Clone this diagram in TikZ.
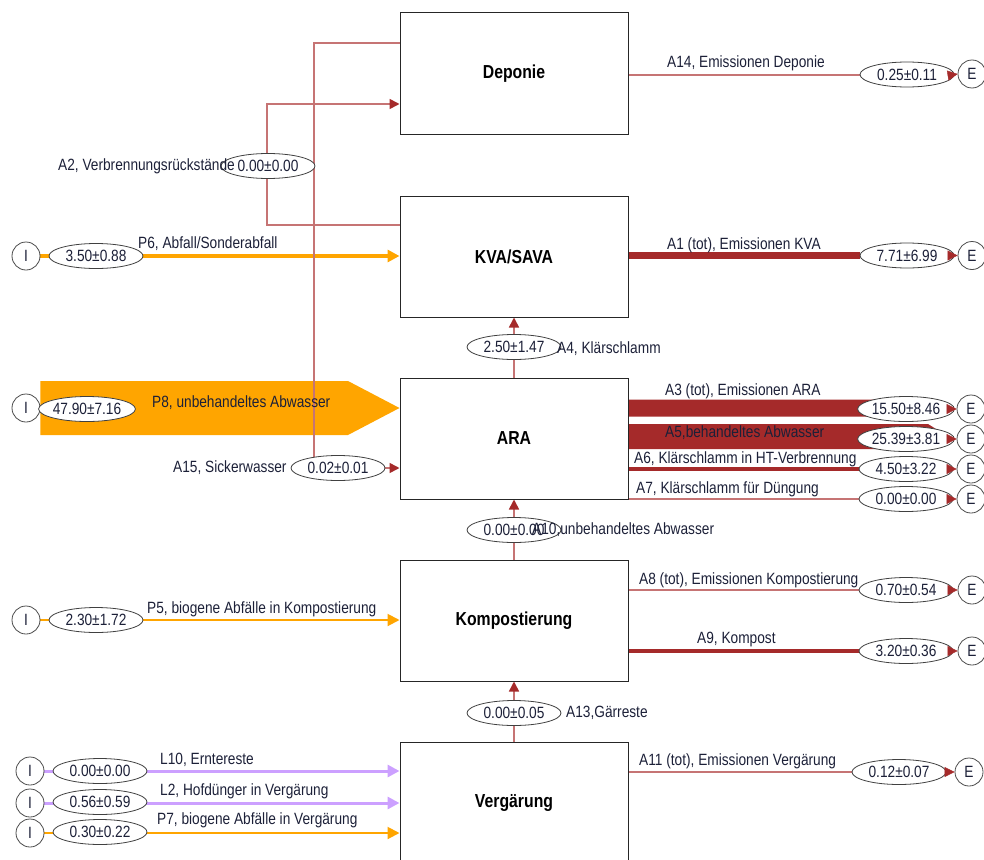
\documentclass[tikz,border=0pt]{standalone}
\usepackage{fontspec}
\setmainfont{Liberation Sans}[FakeStretch=0.84]
\usetikzlibrary{arrows.meta,shapes.geometric}
\pgfdeclarelayer{bg}
\pgfsetlayers{bg,main}
\definecolor{dred}{RGB}{165,42,42}
\definecolor{lred}{RGB}{198,116,116}
\definecolor{orng}{RGB}{255,165,0}
\definecolor{lav}{RGB}{204,160,255}
\definecolor{txt}{RGB}{28,32,56}
\tikzset{
  proc/.style={draw=black!85, line width=1pt, fill=white, minimum width=228pt, minimum height=121pt, inner sep=0pt, font=\fontsize{18.8}{22}\selectfont\bfseries},
  val/.style={ellipse, draw=black!75, line width=0.8pt, fill=white, minimum width=94pt, minimum height=25pt, inner sep=0pt, font=\fontsize{16.3}{18}\selectfont, text=txt},
  term/.style={circle, draw=black!70, line width=0.8pt, fill=white, minimum size=28pt, inner sep=0pt, font=\fontsize{16.3}{18}\selectfont, text=txt},
  lbl/.style={inner sep=0pt, text height=12pt, text depth=3.5pt, font=\fontsize{16.3}{18}\selectfont, text=txt},
  thinl/.style={draw=lred, line width=1.6pt},
  rtip/.style={-{Triangle[length=10pt,width=10pt,color=dred]}},
  otip/.style={-{Triangle[length=12pt,width=12pt,color=orng]}},
  ltip/.style={-{Triangle[length=12pt,width=12pt,color=lav]}},
  endtip/.style={draw=dred, line width=0.4pt, -{Triangle[length=10pt,width=10pt]}}
}
\begin{document}
\begin{tikzpicture}[x=1pt,y=-1pt]
\useasboundingbox (0,0) rectangle (984,859);
\clip (0,0) rectangle (984,859);

% processes
\node[proc] (dep) at (514,73.5) {Deponie};
\node[proc] (kva) at (514,256.5) {KVA/SAVA};
\node[proc] (ara) at (514,438.5) {ARA};
\node[proc] (kom) at (514,620.5) {Kompostierung};
\node[proc] (ver) at (514,802.5) {Vergärung};

% input terminals
\node[term] (iP6) at (26,256) {I};
\node[term] (iP8) at (26,408) {I};
\node[term] (iP5) at (26,620) {I};
\node[term] (iL10) at (30,771) {I};
\node[term] (iL2) at (30,803) {I};
\node[term] (iP7) at (30,833) {I};

% export terminals
\node[term] (eA14) at (972,74) {E};
\node[term] (eA1) at (972,255.5) {E};
\node[term] (eA3) at (971,409) {E};
\node[term] (eA5) at (971,439) {E};
\node[term] (eA6) at (971,469) {E};
\node[term] (eA7) at (971,499) {E};
\node[term] (eA8) at (972,590) {E};
\node[term] (eA9) at (972,651) {E};
\node[term] (eA11) at (969,772) {E};

% values
\node[val] (vA14) at (907,74.5) {0.25±0.11};
\node[val] (vA1) at (907,255.5) {7.71±6.99};
\node[val] (vA2) at (268,166) {0.00±0.00};
\node[val] (vP6) at (96,256) {3.50±0.88};
\node[val] (vA4) at (514,347) {2.50±1.47};
\node[val] (vP8) at (87,409) {47.90±7.16};
\node[val] (vA3) at (906,409) {15.50±8.46};
\node[val] (vA5) at (906,439) {25.39±3.81};
\node[val] (vA6) at (906,469) {4.50±3.22};
\node[val] (vA7) at (906,499) {0.00±0.00};
\node[val] (vA15) at (338,468) {0.02±0.01};
\node[val] (vA10) at (514,530) {0.00±0.00};
\node[val] (vP5) at (96,620) {2.30±1.72};
\node[val] (vA8) at (906,590) {0.70±0.54};
\node[val] (vA9) at (906,651) {3.20±0.36};
\node[val] (vA13) at (514,713) {0.00±0.05};
\node[val] (vA11) at (899,772) {0.12±0.07};
\node[val] (vL10) at (100,771) {0.00±0.00};
\node[val] (vL2) at (100,802) {0.56±0.59};
\node[val] (vP7) at (100,832) {0.30±0.22};

% flows (behind)
\begin{pgfonlayer}{bg}
  \fill[orng] (iP8.east |- 0,381) -- (348,381) -- (ara.west |- 0,408) -- (348,435) -- (iP8.east |- 0,435) -- cycle;
  \draw[orng, line width=3.5pt, otip] (iP6) -- (kva.west |- iP6);
  \draw[orng, line width=2pt, otip] (iP5) -- (kom.west |- iP5);
  \draw[lav, line width=3pt, ltip] (iL10) -- (ver.west |- iL10);
  \draw[lav, line width=3pt, ltip] (iL2) -- (ver.west |- iL2);
  \draw[orng, line width=2pt, otip] (iP7) -- (ver.west |- iP7);
  \draw[thinl, rtip] (kva.west |- 0,225) -- (267,225) -- (267,104) -- (dep.west |- 0,104);
  \draw[thinl, rtip] (dep.west |- 0,43) -- (314,43) -- (314,468) -- (ara.west |- 0,468);
  \draw[thinl, rtip] (ara.north) -- (kva.south);
  \draw[thinl, rtip] (kom.north) -- (ara.south);
  \draw[thinl, rtip] (ver.north) -- (kom.south);
  \draw[thinl, line width=2pt] (dep.east |- vA14) -- (vA14);
  \draw[dred, line width=7pt] (kva.east |- vA1) -- (vA1);
  \fill[dred] (ara.east |- 0,399.5) -- (932,399.5) -- (946,408) -- (932,416.5) -- (ara.east |- 0,416.5) -- cycle;
  \fill[dred] (ara.east |- 0,424) -- (928,424) -- (948,436.5) -- (928,449) -- (ara.east |- 0,449) -- cycle;
  \draw[dred, line width=4pt] (ara.east |- vA6) -- (vA6);
  \draw[thinl, line width=2pt] (ara.east |- vA7) -- (vA7);
  \draw[thinl, line width=2pt] (kom.east |- vA8) -- (vA8);
  \draw[dred, line width=3.5pt] (kom.east |- vA9) -- (vA9);
  \draw[thinl, line width=2pt] (ver.east |- vA11) -- (vA11);
\end{pgfonlayer}

% export tips
\foreach \n in {A14,A1,A3,A5,A6,A7,A8,A9,A11}
  \draw[endtip] (v\n.east) -- (e\n.west);

% labels
\node[lbl, anchor=west] (lA14) at (667,63) {A14, Emissionen Deponie};
\node[lbl, anchor=west] (lA1) at (667,245) {A1 (tot), Emissionen KVA};
\node[lbl, anchor=west] (lA2) at (58,166) {A2, Verbrennungsrückstände};
\node[lbl, anchor=west] (lP6) at (138,244) {P6, Abfall/Sonderabfall};
\node[lbl, anchor=west] (lA4) at (557,349) {A4, Klärschlamm};
\node[lbl, anchor=west] (lP8) at (152,403) {P8, unbehandeltes Abwasser};
\node[lbl, anchor=west] (lA3) at (665,391) {A3 (tot), Emissionen ARA};
\node[lbl, anchor=west] (lA5) at (665,433) {A5,behandeltes Abwasser};
\node[lbl, anchor=west] (lA6) at (634,459) {A6, Klärschlamm in HT-Verbrennung};
\node[lbl, anchor=west] (lA7) at (636,489) {A7, Klärschlamm für Düngung};
\node[lbl, anchor=west] (lA15) at (173,468) {A15, Sickerwasser};
\node[lbl, anchor=west] (lA10) at (532,530) {A10,unbehandeltes Abwasser};
\node[lbl, anchor=west] (lP5) at (147,609) {P5, biogene Abfälle in Kompostierung};
\node[lbl, anchor=west] (lA8) at (639,580) {A8 (tot), Emissionen Kompostierung};
\node[lbl, anchor=west] (lA9) at (697,639) {A9, Kompost};
\node[lbl, anchor=west] (lA13) at (566,713) {A13,Gärreste};
\node[lbl, anchor=west] (lA11) at (639,761) {A11 (tot), Emissionen Vergärung};
\node[lbl, anchor=west] (lL10) at (160,760) {L10, Erntereste};
\node[lbl, anchor=west] (lL2) at (160,791) {L2, Hofdünger in Vergärung};
\node[lbl, anchor=west] (lP7) at (157,820) {P7, biogene Abfälle in Vergärung};
\end{tikzpicture}
\end{document}
